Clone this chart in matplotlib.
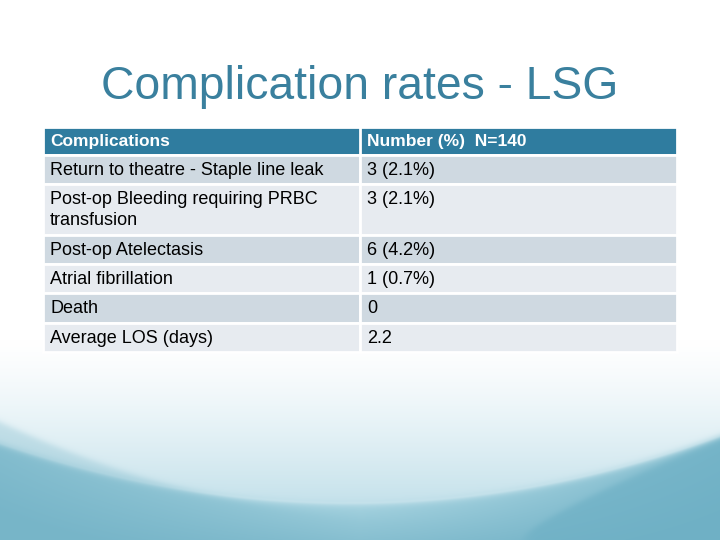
import numpy as np
import matplotlib
matplotlib.use('Agg')
import matplotlib.pyplot as plt
from matplotlib.patches import Rectangle
from matplotlib.colors import to_rgb

plt.rcParams['font.family'] = ['Liberation Sans', 'DejaVu Sans']

TITLE = 'Complication rates - LSG'
HEADERS = ['Complications', 'Number (%)  N=140']
COMPLICATIONS = ['Return to theatre - Staple line leak',
                 'Post-op Bleeding requiring PRBC\ntransfusion',
                 'Post-op Atelectasis',
                 'Atrial fibrillation',
                 'Death',
                 'Average LOS (days)']
VALUES = ['3 (2.1%)', '3 (2.1%)', '6 (4.2%)', '1 (0.7%)', '0', '2.2']

W, H = 720, 540
fig = plt.figure(figsize=(7.2, 5.4), dpi=100)
ax = fig.add_axes([0, 0, 1, 1])
ax.set_xlim(0, W); ax.set_ylim(H, 0); ax.axis('off')

# background: white fading into teal waves at the bottom
X, Y = np.meshgrid(np.arange(W) + 0.5, np.arange(H) + 0.5)
img = np.ones((H, W, 3))

def blend(img, col, a):
    c = np.array(to_rgb(col))
    return img * (1 - a[..., None]) + c * a[..., None]

def smooth(d, w):
    return 1 / (1 + np.exp(-d / w))

t = np.clip((Y - 340) / 170, 0, 1) ** 1.3
img = blend(img, '#c2e0ea', t)
curveA = 505 - 60 * ((X - 350) / 350) ** 2
below = smooth(Y - curveA, 2.0)
img = blend(img, '#9dcedc', 0.85 * below)
depth = np.clip((Y - curveA) / np.maximum(540 - curveA, 1), 0, 1)
side = np.clip(np.abs(X - 360) / 360, 0, 1)
img = blend(img, '#74b3c7', below * np.clip(0.55 * depth + 0.6 * side, 0, 1))
# faint light line along the wave
img = blend(img, '#e2f1f6', 0.2 * np.exp(-((Y - curveA + 2) / 1.5) ** 2))
curveB = 540 - 100 * np.clip((X - 520) / 200, 0, None) ** 0.8
img = blend(img, '#6eb0c5', 0.7 * smooth(Y - curveB, 2.0) * smooth(X - 525, 4))
curveC = 520 - 50 * ((X - 420) / 300) ** 2
img = blend(img, '#7db9cb', 0.35 * smooth(Y - curveC, 2.0) * smooth(300 - X, 60))
ax.imshow(np.clip(img, 0, 1), extent=[0, W, H, 0], aspect='auto', zorder=0)

ax.text(W / 2, 87, TITLE, ha='center', va='center', fontsize=33.3, color='#3a809e', zorder=5)

# table
x0, xm, x1 = 43, 360, 677
line_h = 21
top = 127
hdr_h = 28
row_h = 29.3
fs = 13
rows = []
y = top + hdr_h
for lab in COMPLICATIONS:
    n = lab.count('\n') + 1
    h = row_h + (n - 1) * line_h
    rows.append((y, h))
    y += h

ax.add_patch(Rectangle((x0, top), x1 - x0, hdr_h, fc='#2f7c9f', ec='white', lw=2, zorder=3))
ax.plot([xm, xm], [top, top + hdr_h], color='white', lw=2, zorder=4)
for xx, hd in zip([x0, xm], HEADERS):
    ax.text(xx + 7, top + 19, hd, ha='left', va='baseline', fontsize=fs - 0.5,
            fontweight='bold', color='white', zorder=5)

for i, (lab, val) in enumerate(zip(COMPLICATIONS, VALUES)):
    ry, rh = rows[i]
    fc = '#cfd9e1' if i % 2 == 0 else '#e7ebf0'
    ax.add_patch(Rectangle((x0, ry), xm - x0, rh, fc=fc, ec='white', lw=2, zorder=3))
    ax.add_patch(Rectangle((xm, ry), x1 - xm, rh, fc=fc, ec='white', lw=2, zorder=3))
    for k, ln in enumerate(lab.split('\n')):
        ax.text(x0 + 7, ry + 20 + k * line_h, ln, ha='left', va='baseline', fontsize=fs,
                color='black', zorder=5)
    ax.text(xm + 7, ry + 20, val, ha='left', va='baseline', fontsize=fs, color='black', zorder=5)

fig.savefig('out.png', dpi=100)
